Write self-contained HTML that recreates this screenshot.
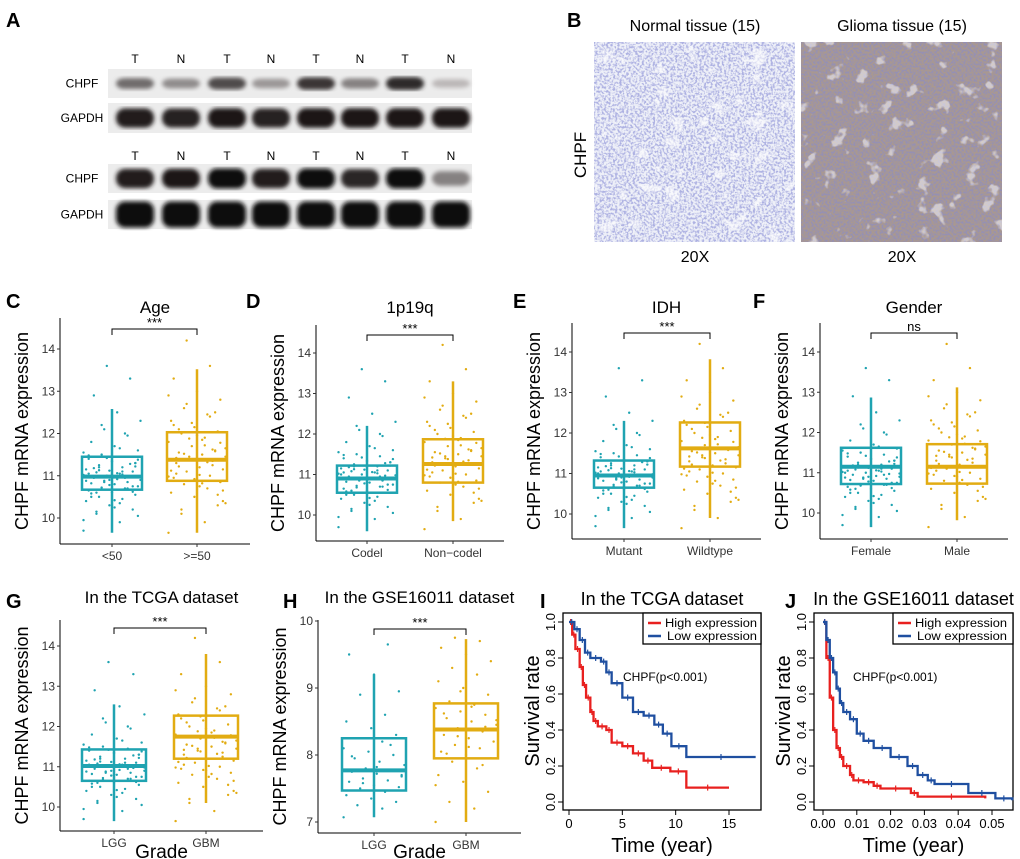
<!DOCTYPE html>
<html><head><meta charset="utf-8"><style>
body{margin:0;background:#fff}
svg{display:block;font-family:"Liberation Sans",Arial,sans-serif}
</style></head><body>
<svg id="fig" width="1020" height="859" viewBox="0 0 1020 859" xmlns="http://www.w3.org/2000/svg">
<defs>
<filter id="tnorm" x="0" y="0" width="100%" height="100%"><feTurbulence type="fractalNoise" baseFrequency="0.45" numOctaves="2" seed="3"/><feColorMatrix type="matrix" values="0 0 0 0 0.42  0 0 0 0 0.44  0 0 0 0 0.76  -4 0 0 0 2.3"/></filter>
<filter id="tgli" x="0" y="0" width="100%" height="100%"><feTurbulence type="fractalNoise" baseFrequency="0.5" numOctaves="2" seed="7"/><feColorMatrix type="matrix" values="0 0 0 0 0.3  0 0 0 0 0.28  0 0 0 0 0.45  -4 0 0 0 2.4"/></filter>
<filter id="twhite" x="0" y="0" width="100%" height="100%"><feTurbulence type="fractalNoise" baseFrequency="0.06" numOctaves="3" seed="11"/><feColorMatrix type="matrix" values="0 0 0 0 1  0 0 0 0 1  0 0 0 0 1  10 0 0 0 -6.4"/></filter>
<filter id="blur2"><feGaussianBlur stdDeviation="2.2"/></filter>
</defs>
<g id="root"></g>
</svg>
<script>
// ---------- Box plot data (value arrays per panel) ----------
const boxCats_C=["<50",">=50"], boxStats_C=[[9.65,10.67,10.98,11.45,12.58],[9.65,10.88,11.38,12.03,13.52]];
const boxCats_D=["Codel","Non\u2212codel"], boxStats_D=[[9.6,10.55,10.9,11.22,12.2],[9.85,10.8,11.26,11.87,13.3]];
const boxCats_E=["Mutant","Wildtype"], boxStats_E=[[9.65,10.65,10.95,11.32,12.3],[9.9,11.17,11.62,12.26,13.82]];
const boxCats_F=["Female","Male"], boxStats_F=[[9.65,10.72,11.15,11.62,12.87],[9.82,10.73,11.15,11.71,13.12]];
const boxCats_G=["LGG","GBM"], boxStats_G=[[9.65,10.65,11.02,11.43,12.55],[10.1,11.2,11.75,12.27,13.8]];
const boxCats_H=["LGG","GBM"], boxStats_H=[[7.07,7.47,7.77,8.25,9.2],[7.0,7.95,8.38,8.77,9.73]];
const yTicks_row1=[10,11,12,13,14], yTicks_G=[10,11,12,13,14], yTicks_H=[7,8,9,10];
const pts_lo=[9.7,9.9,10.1,10.2,10.3,10.4,10.45,10.5,10.55,10.6,10.65,10.7,10.72,10.75,10.8,10.82,10.85,10.88,10.9,10.92,10.95,10.97,11.0,11.02,11.05,11.08,11.1,11.12,11.15,11.2,11.25,11.3,11.35,11.4,11.45,11.5,11.6,11.7,11.8,11.95,12.1,12.3,12.5,12.9,13.3,13.6,9.95,10.35,10.6,10.75,10.9,11.0,11.1,11.2,11.3,10.8,11.05,10.95,10.68,11.38,10.25,10.5,10.7,10.85,10.98,11.06,11.18,11.28,11.42,11.55,11.65,10.15,10.62,10.78,10.88,11.03,11.13,11.22,11.33,11.48,12.0,12.2,10.05,10.42,10.58];
const pts_hi=[9.65,9.9,10.1,10.3,10.5,10.6,10.7,10.8,10.85,10.9,10.95,11.0,11.1,11.15,11.2,11.3,11.35,11.4,11.45,11.5,11.55,11.6,11.7,11.8,11.9,12.0,12.05,12.15,12.3,12.45,12.6,12.8,13.0,13.3,13.6,14.2,10.4,10.75,11.05,11.25,11.45,11.65,11.85,12.1,12.5,11.38,10.98,11.72,10.2,10.55,10.92,11.12,11.32,11.52,11.78,11.95,12.2,12.4,12.7,10.65,11.02,11.42,11.62,11.88,10.35,10.82,11.22,11.58,12.25,12.9];
const pts_H_lo=[7.07,7.2,7.25,7.3,7.35,7.4,7.45,7.5,7.52,7.55,7.6,7.62,7.65,7.7,7.72,7.75,7.78,7.8,7.85,7.9,7.95,8.0,8.05,8.1,8.2,8.25,8.3,8.4,8.5,8.6,8.9,8.95,9.2,9.5,9.65,7.58,7.68,7.82,7.98,8.15];
const pts_H_hi=[7.0,7.2,7.3,7.45,7.6,7.7,7.8,7.9,7.95,8.0,8.05,8.1,8.15,8.2,8.25,8.3,8.35,8.4,8.45,8.5,8.55,8.6,8.65,8.7,8.75,8.8,8.9,9.0,9.1,9.2,9.3,9.4,9.5,9.6,9.7,9.75,8.38,8.12,8.62,7.85,8.28,8.52,8.72,8.02,8.42,8.95,7.55];
// ---------- KM data ----------
const kmI_high_t=[0,0.3,0.6,1,1.3,1.6,2,2.3,2.7,3.5,4,5,6,7,7.8,9.5,11,15];
const kmI_high_s=[1,0.93,0.85,0.75,0.65,0.58,0.5,0.45,0.42,0.4,0.33,0.31,0.27,0.23,0.19,0.17,0.08,0.08];
const kmI_low_t=[0,0.5,1,1.5,2,3,3.5,4,5,6,7,8,8.8,9.6,11,17.5];
const kmI_low_s=[1,0.96,0.9,0.83,0.8,0.78,0.72,0.66,0.58,0.5,0.48,0.43,0.38,0.31,0.25,0.25];
const kmJ_high_t=[0,0.001,0.002,0.003,0.004,0.005,0.006,0.008,0.009,0.012,0.015,0.017,0.026,0.028,0.048];
const kmJ_high_s=[1,0.8,0.58,0.4,0.3,0.25,0.2,0.15,0.12,0.11,0.09,0.075,0.05,0.03,0.02];
const kmJ_low_t=[0,0.001,0.002,0.003,0.004,0.005,0.006,0.008,0.01,0.012,0.015,0.02,0.025,0.028,0.031,0.033,0.043,0.051,0.056];
const kmJ_low_s=[1,0.9,0.8,0.72,0.63,0.55,0.5,0.46,0.38,0.34,0.3,0.25,0.2,0.15,0.12,0.1,0.05,0.02,0.01];
const xTicks_I=[0,5,10,15], xTicks_J=[0,0.01,0.02,0.03,0.04,0.05], yTicks_KM=[0,0.2,0.4,0.6,0.8,1.0];

const NS="http://www.w3.org/2000/svg", root=document.getElementById('root');
function el(tag,attrs,parent,text){const e=document.createElementNS(NS,tag);for(const k in attrs)e.setAttribute(k,attrs[k]);if(text!==undefined)e.textContent=text;(parent||root).appendChild(e);return e;}
const TEAL="#1fa3b1", GOLD="#e2ac12";

// ---------- Panel letters ----------
[["A",6,27],["B",567,27],["C",6,308],["D",246,308],["E",513,308],["F",753,308],["G",6,608],["H",283,608],["I",540,608],["J",785,608]].forEach(p=>{
 const t=el('text',{x:p[1],y:p[2],'font-size':20,'font-weight':'bold'},root,p[0]);
 
 
});

// ---------- Panel A: western blots ----------
const lanes=["T","N","T","N","T","N","T","N"];
const laneX=[135,181,227,271,316,360,405,451];
const blotRows=[
 {lbl:"CHPF",y0:69,y1:98,ints:[0.55,0.4,0.7,0.35,0.8,0.45,0.85,0.2],h:7},
 {lbl:"GAPDH",y0:103,y1:133,ints:[0.92,0.9,0.95,0.9,0.95,0.95,0.95,0.95],h:10},
 {lbl:"CHPF",y0:164,y1:193,ints:[0.92,0.95,1,0.92,1,0.88,1,0.45],h:10},
 {lbl:"GAPDH",y0:200,y1:229,ints:[1,1,1,1,1,1,1,1],h:13}];
const blot=el('g',{});


[58,155].forEach(y=>lanes.forEach((l,i)=>el('text',{x:laneX[i],y:y+5,'font-size':12,'text-anchor':'middle'},blot,l)));
blotRows.forEach(r=>{
 el('rect',{x:108,y:r.y0,width:364,height:r.y1-r.y0,fill:'#ececec'},blot);
 el('text',{x:82,y:(r.y0+r.y1)/2+4,'font-size':12,'text-anchor':'middle'},blot,r.lbl);
 const g=el('g',{filter:'url(#blur2)'},blot);
 r.ints.forEach((v,i)=>{const c=Math.round(230-215*v);el('rect',{x:laneX[i]-19,y:(r.y0+r.y1)/2-r.h*(0.5+0.5*v),width:38,height:2*r.h*(0.5+0.5*v),rx:9,fill:`rgb(${c},${Math.max(c-4,0)},${Math.max(c-4,0)})`},g);});
});

// ---------- Panel B: IHC ----------
[["Normal tissue (15)",594,'#eef0f8','tnorm','ihc-normal-tissue',0.6],["Glioma tissue (15)",801,'#a99890','tgli','ihc-glioma-tissue',0.5]].forEach(d=>{
 const g=el('g',{});
 
 
 el('text',{x:d[1]+101,y:31,'font-size':16,'text-anchor':'middle'},g,d[0]);
 el('rect',{x:d[1],y:42,width:201,height:200,fill:d[2]},g);
 el('rect',{x:d[1],y:42,width:201,height:200,filter:'url(#'+d[3]+')'},g);
 el('rect',{x:d[1],y:42,width:201,height:200,filter:'url(#twhite)',opacity:d[5]},g);
});
el('text',{x:695,y:262,'font-size':16,'text-anchor':'middle'},root,'20X');
el('text',{x:902,y:262,'font-size':16,'text-anchor':'middle'},root,'20X');
el('text',{x:586,y:155,'font-size':17,'text-anchor':'middle',transform:'rotate(-90 586 155)'},root,'CHPF');

// ---------- Box panels ----------
function boxPanel(o){
 const g=el('g',{});
 
 
 const y=v=>o.yA+(v-o.vA)*(o.yB-o.yA)/(o.vB-o.vA);
 el('line',{x1:o.x0,y1:o.top,x2:o.x0,y2:o.bot,stroke:'#000','stroke-width':1},g);
 el('line',{x1:o.x0,y1:o.bot,x2:o.x1,y2:o.bot,stroke:'#000','stroke-width':1},g);
 o.ticks.forEach(t=>{el('line',{x1:o.x0-3,y1:y(t),x2:o.x0,y2:y(t),stroke:'#333'},g);el('text',{x:o.x0-5,y:y(t)+4,'font-size':12,'text-anchor':'end',fill:'#333'},g,String(t));});
 el('text',{x:(o.x0+o.x1)/2,y:o.titleY,'font-size':o.titleSize||17,'text-anchor':'middle'},g,o.title);
 const ly=(o.top+o.bot)/2;
 el('text',{x:o.x0-32,y:ly,'font-size':18,'text-anchor':'middle',transform:`rotate(-90 ${o.x0-32} ${ly})`},g,'CHPF mRNA expression');
 const cols=[TEAL,GOLD];
 o.stats.forEach((s,i)=>{
  const cx=o.cx[i],hw=o.hw,c=cols[i];
  const pts=o.pts[i];
  pts.forEach((v,k)=>{const dx=(((k*37)%23)-11)/11*hw*0.95;el('circle',{cx:cx+dx,cy:y(v),r:1.2,fill:c},g);});
  el('line',{x1:cx,y1:y(s[0]),x2:cx,y2:y(s[4]),stroke:c,'stroke-width':2.5},g);
  el('rect',{x:cx-hw,y:y(s[3]),width:2*hw,height:y(s[1])-y(s[3]),fill:'none',stroke:c,'stroke-width':2.5},g);
  el('line',{x1:cx-hw,y1:y(s[2]),x2:cx+hw,y2:y(s[2]),stroke:c,'stroke-width':4},g);
  el('line',{x1:cx,y1:o.bot,x2:cx,y2:o.bot+3,stroke:'#333'},g);
  el('text',{x:cx,y:o.bot+16,'font-size':12,'text-anchor':'middle',fill:'#333'},g,o.cats[i]);
 });
 el('path',{d:`M${o.cx[0]} ${o.brY+6}V${o.brY}H${o.cx[1]}V${o.brY+6}`,fill:'none',stroke:'#000','stroke-width':1},g);
 el('text',{x:(o.cx[0]+o.cx[1])/2,y:o.brY-2,'font-size':13,'text-anchor':'middle'},g,o.sig);
 if(o.xlab)el('text',{x:(o.x0+o.x1)/2,y:858,'font-size':19,'text-anchor':'middle'},g,o.xlab);
}
boxPanel({id:'age',x0:60,x1:250,top:318,bot:544,yA:349,vA:14,yB:518,vB:10,ticks:yTicks_row1,title:'Age',titleY:313,cx:[112,197],hw:30,stats:boxStats_C,cats:boxCats_C,pts:[pts_lo,pts_hi],brY:329,sig:'***'});
boxPanel({id:'1p19q',x0:316,x1:504,top:325,bot:541,yA:353,vA:14,yB:515,vB:10,ticks:yTicks_row1,title:'1p19q',titleY:313,cx:[367,453],hw:30,stats:boxStats_D,cats:boxCats_D,pts:[pts_lo,pts_hi],brY:335,sig:'***'});
boxPanel({id:'idh',x0:572,x1:761,top:323,bot:539,yA:352,vA:14,yB:514,vB:10,ticks:yTicks_row1,title:'IDH',titleY:313,cx:[624,710],hw:30,stats:boxStats_E,cats:boxCats_E,pts:[pts_lo,pts_hi],brY:333,sig:'***'});
boxPanel({id:'gender',x0:820,x1:1008,top:323,bot:539,yA:352,vA:14,yB:513,vB:10,ticks:yTicks_row1,title:'Gender',titleY:313,cx:[871,957],hw:30,stats:boxStats_F,cats:boxCats_F,pts:[pts_lo,pts_hi],brY:333,sig:'ns'});
boxPanel({id:'tcga-grade',x0:60,x1:263,top:620,bot:831,yA:646,vA:14,yB:807,vB:10,ticks:yTicks_G,title:'In the TCGA dataset',titleY:603,cx:[114,206],hw:32,stats:boxStats_G,cats:boxCats_G,pts:[pts_lo,pts_hi],brY:628,sig:'***',xlab:'Grade'});
boxPanel({id:'gse-grade',x0:318,x1:521,top:620,bot:833,yA:621,vA:10,yB:822,vB:7,ticks:yTicks_H,title:'In the GSE16011 dataset',titleY:603,cx:[374,466],hw:32,stats:boxStats_H,cats:boxCats_H,pts:[pts_H_lo,pts_H_hi],brY:629,sig:'***',xlab:'Grade'});

// ---------- KM panels ----------
function km(o){
 const g=el('g',{});
 
 
 const X=v=>o.xA+(v-o.vA)*(o.xB-o.xA)/(o.vB-o.vA), Y=s=>802-s*180;
 el('rect',{x:o.bx0,y:613,width:o.bx1-o.bx0,height:197,fill:'none',stroke:'#000','stroke-width':1.3},g);
 o.xt.forEach(t=>{el('line',{x1:X(t),y1:810,x2:X(t),y2:815,stroke:'#000'},g);el('text',{x:X(t),y:828,'font-size':13,'text-anchor':'middle'},g,o.fmt(t));});
 yTicks_KM.forEach(t=>{el('line',{x1:o.bx0-5,y1:Y(t),x2:o.bx0,y2:Y(t),stroke:'#000'},g);el('text',{x:o.bx0-8,y:Y(t),'font-size':13,'text-anchor':'middle',transform:`rotate(-90 ${o.bx0-8} ${Y(t)})`},g,t.toFixed(1));});
 el('text',{x:(o.bx0+o.bx1)/2,y:605,'font-size':18,'text-anchor':'middle'},g,o.title);
 el('text',{x:(o.bx0+o.bx1)/2,y:852,'font-size':20,'text-anchor':'middle'},g,'Time (year)');
 el('text',{x:o.bx0-24,y:711,'font-size':20,'text-anchor':'middle',transform:`rotate(-90 ${o.bx0-24} 711)`},g,'Survival rate');
 [[o.hiT,o.hiS,'#e8201f','high'],[o.loT,o.loS,'#1f4fa0','low']].forEach(c=>{
  let d=`M${X(c[0][0])} ${Y(c[1][0])}`;
  for(let i=1;i<c[0].length;i++)d+=`H${X(c[0][i])}V${Y(c[1][i])}`;
  const p=el('path',{d:d,fill:'none',stroke:c[2],'stroke-width':2.3},g);
  
  
  for(let i=1;i<c[0].length;i++){const mx=(X(c[0][i-1])+X(c[0][i]))/2;el('line',{x1:mx,y1:Y(c[1][i-1])-3,x2:mx,y2:Y(c[1][i-1])+3,stroke:c[2],'stroke-width':1.2},g);}
 });
 const lg=el('g',{},g);
 
 
 el('rect',{x:o.lx,y:613,width:o.bx1-o.lx,height:31,fill:'#fff',stroke:'#000','stroke-width':1.3},lg);
 el('line',{x1:o.lx+5,y1:623,x2:o.lx+18,y2:623,stroke:'#e8201f','stroke-width':2.5},lg);
 el('line',{x1:o.lx+5,y1:636,x2:o.lx+18,y2:636,stroke:'#1f4fa0','stroke-width':2.5},lg);
 el('text',{x:o.lx+22,y:627,'font-size':11.5,textLength:92,lengthAdjust:'spacingAndGlyphs'},lg,'High expression');
 el('text',{x:o.lx+24,y:640,'font-size':11.5,textLength:90,lengthAdjust:'spacingAndGlyphs'},lg,'Low expression');
 el('text',{x:o.px,y:681,'font-size':12},g,'CHPF(p<0.001)');
}
km({id:'tcga',bx0:563,bx1:761,xA:569,vA:0,xB:729,vB:15,xt:xTicks_I,fmt:t=>String(t),title:'In the TCGA dataset',hiT:kmI_high_t,hiS:kmI_high_s,loT:kmI_low_t,loS:kmI_low_s,lx:643,px:623});
km({id:'gse16011',bx0:814,bx1:1013,xA:823,vA:0,xB:992,vB:0.05,xt:xTicks_J,fmt:t=>t.toFixed(2),title:'In the GSE16011 dataset',hiT:kmJ_high_t,hiS:kmJ_high_s,loT:kmJ_low_t,loS:kmJ_low_s,lx:893,px:853});
</script>
</body></html>
